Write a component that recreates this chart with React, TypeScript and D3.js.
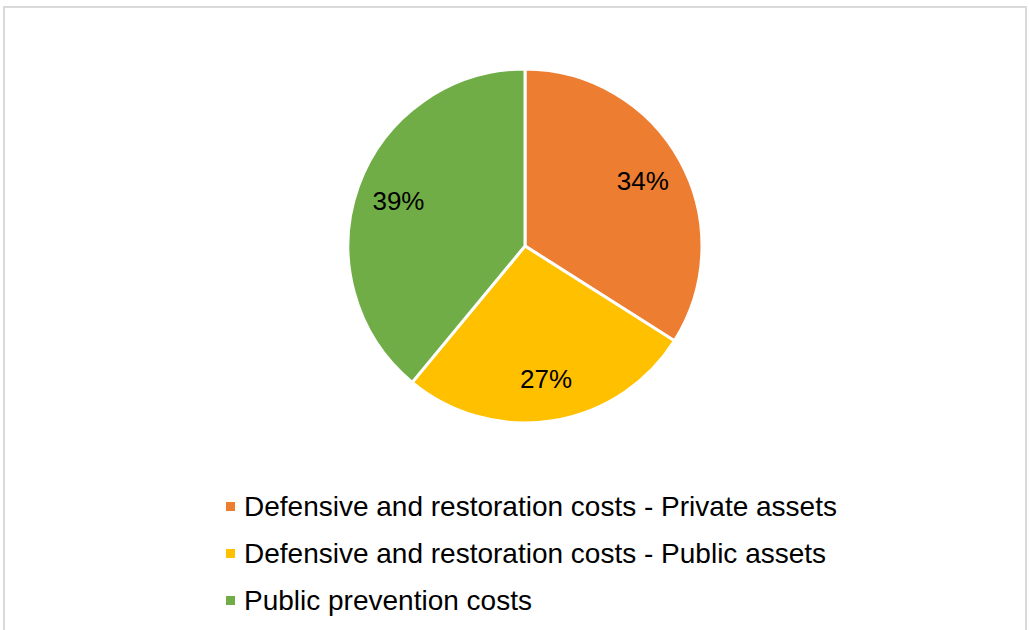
import React from "react";
import * as d3 from "d3";

const categories = [
  "Defensive and restoration costs - Private assets",
  "Defensive and restoration costs - Public assets",
  "Public prevention costs",
];
const values = [34, 27, 39];
const colors = ["#ED7D31", "#FFC000", "#70AD47"];

export default function App() {
  const W = 1029, H = 630;
  const cx = 525, cy = 246, r = 177;
  const pie = d3.pie<number>().sort(null).value((d) => d)(values);
  const arc = d3.arc<d3.PieArcDatum<number>>().innerRadius(0).outerRadius(r);
  const labelArc = d3.arc<d3.PieArcDatum<number>>().innerRadius(r * 0.76).outerRadius(r * 0.76);
  const total = d3.sum(values);
  const font = "'Liberation Sans', Arial, sans-serif";
  const legendY = d3.scalePoint<string>().domain(categories).range([506, 600]);
  return (
    <svg width={W} height={H} style={{ position: "absolute", left: 0, top: 0, background: "#fff" }}>
      <rect x={4} y={7} width={1022} height={640} fill="#fff" stroke="#d9d9d9" strokeWidth={2} />
      <g transform={`translate(${cx},${cy})`}>
        {pie.map((p, i) => (
          <path key={i} d={arc(p) || ""} fill={colors[i]} stroke="#fff" strokeWidth={3} />
        ))}
        {pie.map((p, i) => {
          const [x, y] = labelArc.centroid(p);
          return (
            <text key={i} x={x} y={y} dy="0.35em" textAnchor="middle" fontFamily={font} fontSize={26} fill="#000">
              {Math.round((values[i] / total) * 100)}%
            </text>
          );
        })}
      </g>
      {categories.map((c, i) => {
        const y = legendY(c) as number;
        return (
          <g key={c}>
            <rect x={226} y={y - 4} width={9} height={9} fill={colors[i]} />
            <text x={244} y={y} dy="0.35em" fontFamily={font} fontSize={28} fill="#000">{c}</text>
          </g>
        );
      })}
    </svg>
  );
}
